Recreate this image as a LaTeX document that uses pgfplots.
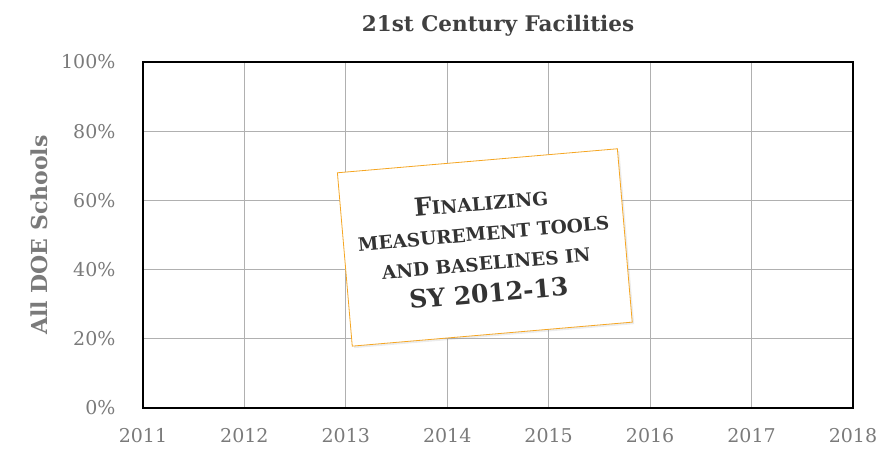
\documentclass[border=0pt]{standalone}
\usepackage{pgfplots}
\pgfplotsset{compat=1.18}
\usepackage{fontspec}
\setmainfont{DejaVu Serif}
\usetikzlibrary{shadows}
\definecolor{tickgray}{HTML}{7A7A7A}
\definecolor{titlegray}{HTML}{404040}
\definecolor{gridgray}{HTML}{B0B0B0}
\definecolor{noteorange}{HTML}{F5A623}
\definecolor{notetext}{HTML}{333333}
\begin{document}
\begin{tikzpicture}
\useasboundingbox (0,0) rectangle (882pt,456pt);
\begin{axis}[
    at={(143pt,48pt)}, anchor=south west,
    scale only axis,
    width=710pt, height=346pt,
    xmin=2011, xmax=2018,
    ymin=0, ymax=100,
    xtick={2011,...,2018},
    ytick={0,20,...,100},
    xticklabel style={/pgf/number format/1000 sep={}},
    yticklabel={\pgfmathprintnumber{\tick}\%},
    /pgf/number format/assume math mode=true,
    tick label style={font=\fontsize{19}{22}\selectfont, text=tickgray},
    xticklabel style={yshift=-17pt},
    yticklabel style={xshift=-24pt},
    major tick length=0pt,
    grid=major,
    major grid style={gridgray, line width=1pt},
    axis line style={black, line width=1.6pt},
    title={21st Century Facilities},
    title style={font=\bfseries\fontsize{21.5}{24}\selectfont, text=titlegray, yshift=16pt},
    ylabel={All DOE Schools},
    ylabel style={font=\bfseries\fontsize{22}{24}\selectfont, text=tickgray, yshift=6pt},
]
\addplot[draw=none, forget plot] coordinates {(2011,0) (2018,0)};
\node[draw=noteorange, line width=0.8pt, fill=white, rotate=4.9,
      minimum width=281pt, minimum height=174pt, align=center,
      text=notetext, font=\bfseries\fontsize{18.5}{30}\selectfont, inner sep=0pt,
      drop shadow={opacity=0.15, shadow xshift=2pt, shadow yshift=-2pt}]
  at (axis cs:2014.37,46.4)
  {{\fontsize{25}{30}\selectfont F}INALIZING\\
   MEASUREMENT TOOLS\\
   AND BASELINES IN\\[2pt]
   {\fontsize{25}{30}\selectfont SY 2012-13}};
\end{axis}
\end{tikzpicture}
\end{document}
